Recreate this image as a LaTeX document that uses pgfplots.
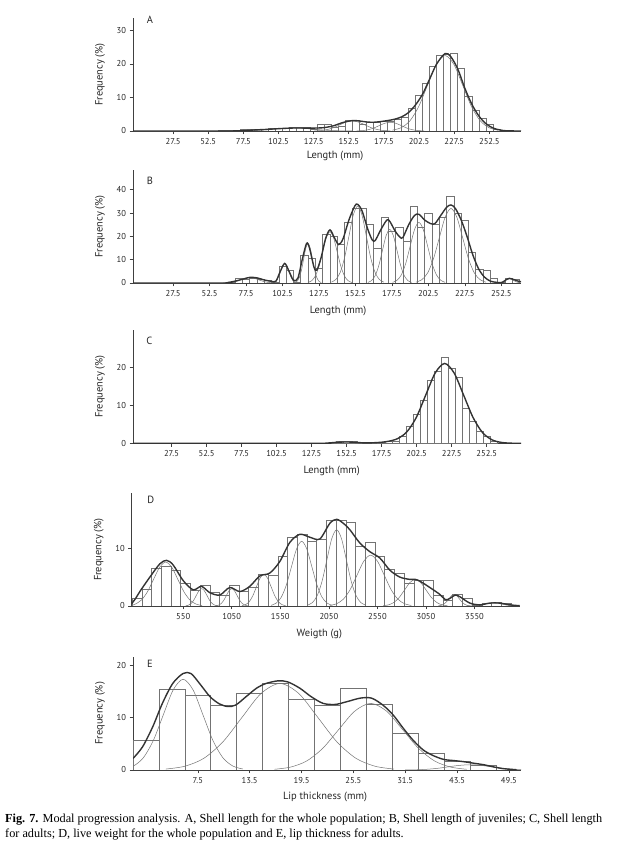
\documentclass[border=0pt]{standalone}
\usepackage{fontspec}
\setmainfont{Liberation Serif}
\newfontfamily\sansf{PT Sans}
\usepackage{pgfplots}
\pgfplotsset{compat=1.18}
\pgfplotsset{
  panel/.style={
    scale only axis, width=388bp, anchor=south west,
    axis lines*=left,
    axis line style={draw=black!75, line width=0.8pt},
    tick align=outside, major tick length=3.5bp,
    tick style={draw=black!75, line width=0.6pt},
    ymin=0,
    tick label style={font=\sansf\fontsize{8.6}{10}\selectfont, text=black!85},
    /pgf/number format/assume math mode=true,
    /pgf/number format/1000 sep={},
    every axis y label/.style={at={(axis description cs:-0.085,0.5)}, rotate=90, anchor=center, font=\sansf\fontsize{10.5}{12}\selectfont, text=black!85},
    ylabel={Frequency (\%)},
  },
  bars/.style={ybar interval, draw=black!55, fill=white, line width=0.6pt},
  comp/.style={draw=black!55, line width=0.5pt, smooth, mark=none},
  tot/.style={draw=black!80, line width=1.4pt, smooth, mark=none},
}
\begin{document}
\begin{tikzpicture}
\useasboundingbox (0,0) rectangle (620bp,856bp);
% ---------------- A
\begin{axis}[panel, at={(133bp,725bp)}, height=113bp, xmin=-1, xmax=275, ymax=33.7,
  xtick={27.5,52.5,77.5,102.5,127.5,152.5,177.5,202.5,227.5,252.5}, ytick={0,10,20,30}]
\addplot[bars] coordinates {(60,0.2)(65,0.3)(70,0.3)(75,0.4)(80,0.4)(85,0.5)(90,0.5)(95,0.7)(100,0.8)(105,0.9)(110,1.0)(115,1.0)(120,1.0)(125,0.6)(130,1.9)(135,1.9)(140,1.0)(145,1.5)(150,3.1)(155,3.2)(160,2.0)(165,2.5)(170,2.6)(175,2.8)(180,2.8)(185,3.5)(190,4.0)(195,6.8)(200,10.5)(205,14.2)(210,19.2)(215,22.5)(220,23.0)(225,23.2)(230,18.7)(235,10.2)(240,6.3)(245,3.8)(250,2.1)(255,0.6)(260,0.2)(265,0)};
\addplot[comp] coordinates {(71,0.01)(78,0.04)(85,0.12)(92,0.29)(99,0.55)(106,0.79)(113,0.9)(120,0.79)(127,0.55)(134,0.29)(141,0.12)(148,0.04)(155,0.01)};
\addplot[comp] coordinates {(128,0.03)(132.5,0.13)(137,0.41)(141.5,0.97)(146,1.82)(150.5,2.65)(155,3.0)(159.5,2.65)(164,1.82)(168.5,0.97)(173,0.41)(177.5,0.13)(182,0.03)};
\addplot[comp] coordinates {(158,0.03)(162,0.11)(166,0.35)(170,0.84)(174,1.58)(178,2.29)(182,2.6)(186,2.29)(190,1.58)(194,0.84)(198,0.35)(202,0.11)(206,0.03)};
\addplot[comp] coordinates {(183.5,0.25)(189.75,0.99)(196,3.04)(202.25,7.31)(208.5,13.65)(214.75,19.86)(221,22.5)(227.25,19.86)(233.5,13.65)(239.75,7.31)(246,3.04)(252.25,0.99)(258.5,0.25)};
\addplot[tot] coordinates {(-1,0)(60,0)(75,0.05)(85,0.3)(95,0.5)(105,0.75)(115,0.9)(125,0.85)(135,1.0)(142,1.6)(148,2.5)(155,3.1)(160,3.0)(165,2.7)(170,2.6)(175,2.8)(180,3.1)(185,3.5)(190,4.2)(195,5.5)(200,7.8)(205,11.0)(210,15.5)(215,20.0)(221,23.1)(225,22.2)(230,18.5)(235,12.8)(240,8.0)(245,4.5)(250,2.2)(255,0.9)(260,0.3)(265,0.05)(275,0)};
\end{axis}
% ---------------- B
\begin{axis}[panel, at={(133bp,573bp)}, height=113bp, xmin=0, xmax=266, ymax=48.5,
  xtick={27.5,52.5,77.5,102.5,127.5,152.5,177.5,202.5,227.5,252.5}, ytick={0,10,20,30,40}]
\addplot[bars] coordinates {(60,0)(65,0.5)(70,1.9)(75,1.5)(80,2.1)(85,1.5)(90,1.0)(95,0.5)(100,7.1)(105,5.3)(110,0.5)(115,12.1)(120,10.7)(125,6.4)(130,21)(135,20)(140,16.4)(145,26)(150,32)(155,32)(160,25)(165,15)(170,28)(175,22)(180,24)(185,18)(190,33)(195,24)(200,30)(205,25)(210,28)(215,37)(220,30)(225,27)(230,13)(235,6)(240,5.3)(245,2)(250,0.5)(255,2.0)(260,1.4)(265,0)};
\addplot[comp] coordinates {(62,0.03)(65,0.10)(68,0.31)(71,0.75)(74,1.40)(77,2.03)(80,2.3)(83,2.03)(86,1.40)(89,0.75)(92,0.31)(95,0.10)(98,0.03)};
\addplot[comp] coordinates {(95.6,0.09)(97,0.37)(98.4,1.14)(99.8,2.73)(101.2,5.09)(102.6,7.41)(104,8.4)(105.4,7.41)(106.8,5.09)(108.2,2.73)(109.6,1.14)(111,0.37)(112.4,0.09)};
\addplot[comp] coordinates {(111,0.19)(112.5,0.75)(114,2.30)(115.5,5.52)(117,10.31)(118.5,15.0)(120,17)(121.5,15.0)(123,10.31)(124.5,5.52)(126,2.30)(127.5,0.75)(129,0.19)};
\addplot[comp] coordinates {(120,0.24)(122.5,0.97)(125,2.98)(127.5,7.14)(130,13.34)(132.5,19.42)(135,22)(137.5,19.42)(140,13.34)(142.5,7.14)(145,2.98)(147.5,0.97)(150,0.24)};
\addplot[comp] coordinates {(136,0.37)(139,1.45)(142,4.47)(145,10.72)(148,20.01)(151,29.12)(154,33)(157,29.12)(160,20.01)(163,10.72)(166,4.47)(169,1.45)(172,0.37)};
\addplot[comp] coordinates {(161,0.26)(163.5,1.01)(166,3.11)(168.5,7.47)(171,13.95)(173.5,20.30)(176,23)(178.5,20.30)(181,13.95)(183.5,7.47)(186,3.11)(188.5,1.01)(191,0.26)};
\addplot[comp] coordinates {(178,0.29)(181,1.14)(184,3.52)(187,8.44)(190,15.77)(193,22.95)(196,26)(199,22.95)(202,15.77)(205,8.44)(208,3.52)(211,1.14)(214,0.29)};
\addplot[comp] coordinates {(194,0.36)(198,1.40)(202,4.33)(206,10.39)(210,19.41)(214,28.24)(218,32)(222,28.24)(226,19.41)(230,10.39)(234,4.33)(238,1.40)(242,0.36)};
\addplot[comp] coordinates {(249,0.02)(250.5,0.08)(252,0.24)(253.5,0.58)(255,1.09)(256.5,1.59)(258,1.8)(259.5,1.59)(261,1.09)(262.5,0.58)(264,0.24)(266,0.05)};
\addplot[tot] coordinates {(0,0)(60,0)(65,0.2)(70,0.8)(75,1.6)(80,2.4)(85,2.2)(90,1.3)(95,0.7)(98,0.8)(101,5)(104,8.4)(107,5.0)(110,1.2)(113,2.0)(116,10)(119,17.0)(121,15)(124,7)(126,5.5)(129,11)(132,19)(135,22.8)(138,19.5)(141,16.5)(144,19)(148,27)(152,33)(154,33.8)(157,31)(161,23)(164,18.5)(166,18.2)(170,23)(174,27)(176,26.5)(180,22)(183,19.7)(185,19.5)(189,25)(193,29)(196,29.5)(200,27)(204,25.5)(207,25.5)(211,29)(215,32.5)(218,33.5)(221,32)(225,27)(229,20)(233,12)(237,6)(241,2.5)(245,0.8)(249,0.3)(253,0.2)(256,1.5)(258,2.0)(261,1.5)(264,0.8)(266,0.6)};
\end{axis}
% ---------------- C
\begin{axis}[panel, at={(133bp,412.7bp)}, height=113.3bp, xmin=0, xmax=277, ymax=29.8,
  xtick={27.5,52.5,77.5,102.5,127.5,152.5,177.5,202.5,227.5,252.5}, ytick={0,10,20}]
\addplot[bars] coordinates {(140,0)(145,0.4)(150,0.4)(155,0.4)(160,0)(165,0)(170,0.1)(175,0.3)(180,0.4)(185,0.6)(190,1.8)(195,4.6)(200,7.5)(205,11.2)(210,16.7)(215,18.9)(220,22.6)(225,19.7)(230,17.3)(235,9.2)(240,5.7)(245,3.1)(250,1.9)(255,0.5)(260,0)};
\addplot[tot] coordinates {(0,0)(130,0)(140,0.1)(145,0.25)(152,0.35)(159,0.25)(165,0.1)(172,0.15)(178,0.3)(182,0.5)(188.75,1.2)(195.5,3.0)(202.25,6.8)(209,12.7)(215.75,18.5)(222.5,21.0)(229.25,18.5)(236,12.7)(242.75,6.8)(249.5,2.84)(256.25,0.92)(263,0.23)(270,0.03)(277,0)};
\end{axis}
% ---------------- D
\begin{axis}[panel, at={(131.7bp,250bp)}, height=112.7bp, xmin=20, xmax=4015, ymax=19.5,
  xtick={550,1050,1550,2050,2550,3050,3550}, ytick={0,10}]
\addplot[bars] coordinates {(25,1.3)(125,2.9)(225,6.5)(325,6.9)(425,6.2)(525,4.0)(625,2.8)(725,3.6)(825,2.3)(925,1.9)(1025,3.5)(1125,2.5)(1225,3.2)(1325,5.4)(1425,5.3)(1525,8.6)(1625,11.9)(1725,12.4)(1825,11.2)(1925,11.6)(2025,14.8)(2125,14.8)(2225,14.5)(2325,10.3)(2425,11.0)(2525,8.6)(2625,6.4)(2725,5.7)(2825,4.0)(2925,4.5)(3025,4.4)(3125,1.9)(3225,1.0)(3325,2.1)(3425,1.3)(3525,0.2)(3625,0.4)(3725,0.6)(3825,0.4)(3925,0.1)(4025,0)};
\addplot[comp] coordinates {(20,0.1)(57.5,0.33)(120,1.03)(182.5,2.47)(245,4.61)(307.5,6.71)(370,7.6)(432.5,6.71)(495,4.61)(557.5,2.47)(620,1.03)(682.5,0.33)(745,0.08)};
\addplot[comp] coordinates {(575,0.03)(602.5,0.13)(630,0.41)(657.5,0.97)(685,1.82)(712.5,2.65)(740,3.0)(767.5,2.65)(795,1.82)(822.5,0.97)(850,0.41)(877.5,0.13)(905,0.03)};
\addplot[comp] coordinates {(885,0.03)(912.5,0.13)(940,0.41)(967.5,0.97)(995,1.82)(1022.5,2.65)(1050,3.0)(1077.5,2.65)(1105,1.82)(1132.5,0.97)(1160,0.41)(1187.5,0.13)(1215,0.03)};
\addplot[comp] coordinates {(1155,0.06)(1192.5,0.24)(1230,0.74)(1267.5,1.79)(1305,3.34)(1342.5,4.85)(1380,5.5)(1417.5,4.85)(1455,3.34)(1492.5,1.79)(1530,0.74)(1567.5,0.24)(1605,0.06)};
\addplot[comp] coordinates {(1455,0.12)(1507.5,0.49)(1560,1.52)(1612.5,3.64)(1665,6.79)(1717.5,9.88)(1770,11.2)(1822.5,9.88)(1875,6.79)(1927.5,3.64)(1980,1.52)(2032.5,0.49)(2085,0.12)};
\addplot[comp] coordinates {(1830,0.15)(1880,0.58)(1930,1.79)(1980,4.29)(2030,8.01)(2080,11.65)(2130,13.2)(2180,11.65)(2230,8.01)(2280,4.29)(2330,1.79)(2380,0.58)(2430,0.15)};
\addplot[comp] coordinates {(2060,0.10)(2130,0.39)(2200,1.19)(2270,2.86)(2340,5.34)(2410,7.77)(2480,8.8)(2550,7.77)(2620,5.34)(2690,2.86)(2760,1.19)(2830,0.39)(2900,0.10)};
\addplot[comp] coordinates {(2610,0.05)(2665,0.20)(2720,0.62)(2775,1.49)(2830,2.79)(2885,4.06)(2940,4.6)(2995,4.06)(3050,2.79)(3105,1.49)(3160,0.62)(3215,0.20)(3270,0.05)};
\addplot[comp] coordinates {(3175,0.02)(3202.5,0.09)(3230,0.27)(3257.5,0.65)(3285,1.21)(3312.5,1.77)(3340,2.0)(3367.5,1.77)(3395,1.21)(3422.5,0.65)(3450,0.27)(3477.5,0.09)(3505,0.02)};
\addplot[comp] coordinates {(3470,0.01)(3515,0.02)(3560,0.07)(3605,0.18)(3650,0.33)(3695,0.49)(3740,0.55)(3785,0.49)(3830,0.33)(3875,0.18)(3920,0.07)(3965,0.02)(4010,0.01)};
\addplot[tot] coordinates {(20,0.4)(60,1.3)(104,2.5)(207,5.0)(310,7.3)(379,7.9)(447,7.1)(550,4.4)(653,2.8)(739,3.4)(825,2.3)(927,1.9)(1030,3.2)(1133,2.5)(1236,3.4)(1339,5.2)(1442,5.7)(1545,7.7)(1648,11.0)(1751,12.4)(1854,11.9)(1957,11.6)(2060,14.3)(2130,15.0)(2200,14.3)(2266,13.2)(2369,10.9)(2472,9.4)(2575,8.3)(2678,6.2)(2781,5.0)(2884,4.6)(2940,4.6)(2987,4.3)(3090,3.2)(3193,2.0)(3250,1.1)(3296,1.3)(3350,1.9)(3399,1.6)(3502,0.5)(3605,0.2)(3708,0.5)(3811,0.5)(3914,0.2)(4015,0.05)};
\end{axis}
% ---------------- E
\begin{axis}[panel, at={(133bp,86bp)}, height=113.3bp, xmin=0, xmax=44.9, ymax=21.6,
  xtick={7.5,13.5,19.5,25.5,31.5,37.5,43.5}, xticklabels={7.5,13.5,19.5,25.5,31.5,43.5,49.5}, ytick={0,10,20}]
\addplot[bars] coordinates {(0,5.7)(3,15.4)(6,14.3)(9,12.25)(12,14.6)(15,16.6)(18,13.5)(21,12.25)(24,15.6)(27,12.6)(30,7.0)(33,3.1)(36,1.6)(39,0.9)(42,0)};
\addplot[comp] coordinates {(-1.1,0.19)(0.05,0.76)(1.2,2.34)(2.35,5.62)(3.5,10.49)(4.65,15.27)(5.8,17.3)(6.95,15.27)(8.1,10.49)(9.25,5.62)(10.4,2.34)(11.55,0.76)(12.7,0.19)};
\addplot[comp] coordinates {(3.8,0.18)(6.0,0.72)(8.2,2.23)(10.4,5.36)(12.6,10.0)(14.8,14.56)(17,16.5)(19.2,14.56)(21.4,10.0)(23.6,5.36)(25.8,2.23)(28.0,0.72)(30.2,0.18)};
\addplot[comp] coordinates {(16.4,0.14)(18.25,0.56)(20.1,1.72)(21.95,4.12)(23.8,7.70)(25.65,11.21)(27.5,12.7)(29.35,11.21)(31.2,7.70)(33.05,4.12)(34.9,1.72)(36.75,0.56)(38.6,0.14)};
\addplot[comp] coordinates {(31.5,0.01)(32.75,0.04)(34,0.14)(35.25,0.32)(36.5,0.61)(37.75,0.88)(39,1.0)(40.25,0.88)(41.5,0.61)(42.75,0.32)(44,0.14)(44.9,0.07)};
\addplot[tot] coordinates {(0,2.2)(1.1,4.4)(2.3,8.3)(3.4,12.7)(4.6,16.5)(5.8,18.4)(6.7,18.4)(7.7,16.5)(8.9,14.0)(10.0,12.6)(11.0,12.1)(11.9,12.4)(13.1,14.0)(14.3,15.6)(15.4,16.5)(16.8,17.0)(17.9,16.8)(19.3,15.6)(20.6,14.0)(22.0,12.7)(23.4,12.5)(24.7,13.0)(26.3,13.7)(27.6,13.7)(28.9,12.4)(30.1,10.5)(31.3,7.9)(32.4,5.7)(33.6,3.8)(34.8,2.7)(36.0,2.0)(37.1,1.8)(38.2,1.6)(39.4,1.3)(40.6,1.0)(41.7,0.6)(42.9,0.25)(44.4,0.05)};
\end{axis}
% ---------------- labels
\begin{scope}[every node/.style={font=\sansf\fontsize{10.5}{12}\selectfont, text=black!85}]
\node at (150bp,836.7bp) {A};
\node at (150bp,675.3bp) {B};
\node at (149.3bp,515.3bp) {C};
\node at (150.7bp,356bp) {D};
\node at (150bp,192bp) {E};
\node at (335bp,700bp) {Length (mm)};
\node at (338bp,545.3bp) {Length (mm)};
\node at (331.7bp,385.3bp) {Length (mm)};
\node at (319.3bp,222bp) {Weigth (g)};
\node at (325bp,59bp) {Lip thickness (mm)};
\end{scope}
\node[anchor=north west, align=left, inner sep=0pt, font=\fontsize{12.3}{15}\selectfont] at (5bp,42bp)
  {\textbf{Fig. 7.} Modal progression analysis. A, Shell length for the whole population; B, Shell length of juveniles; C, Shell length\\
   for adults; D, live weight for the whole population and E, lip thickness for adults.};
\end{tikzpicture}
\end{document}
